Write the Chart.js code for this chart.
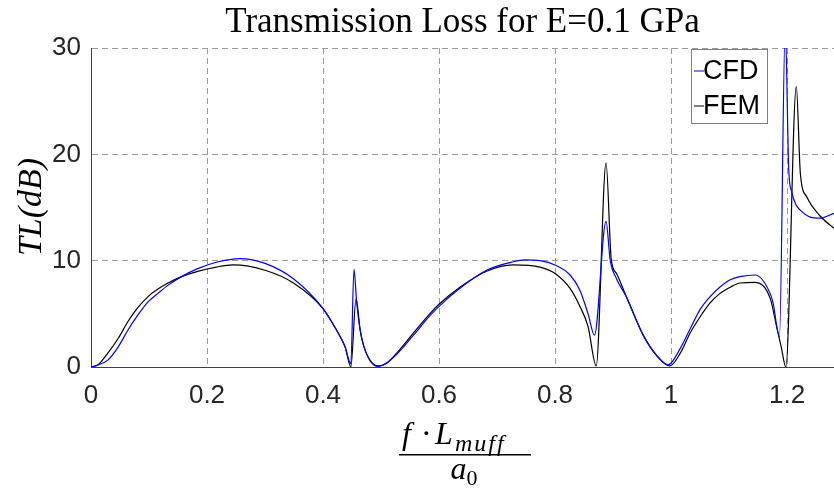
<!DOCTYPE html>
<html>
<head>
<meta charset="utf-8">
<script src="https://cdn.jsdelivr.net/npm/chart.js@4.4.1/dist/chart.umd.min.js"></script>
<style>
  html, body { margin: 0; padding: 0; background: #fff; }
  #wrap { width: 834px; height: 488px; position: relative; }
</style>
</head>
<body>
<div id="wrap"><canvas id="tlChart" width="834" height="488"></canvas></div>
<script>
// values
const cfdX = [0, 0.012, 0.029, 0.047, 0.064, 0.081, 0.098, 0.116, 0.133, 0.156, 0.184, 0.216, 0.257, 0.3, 0.349, 0.4, 0.423, 0.438, 0.448, 0.4534, 0.458, 0.464, 0.4695, 0.481, 0.495, 0.51, 0.527, 0.556, 0.584, 0.6, 0.636, 0.682, 0.728, 0.748, 0.774, 0.8, 0.826, 0.843, 0.857, 0.868, 0.888, 0.895, 0.906, 0.923, 0.952, 0.975, 0.995, 1.016, 1.033, 1.05, 1.067, 1.084, 1.102, 1.119, 1.145, 1.171, 1.176, 1.187, 1.197, 1.203, 1.208, 1.215, 1.222, 1.24, 1.257, 1.281];
const cfdTL = [0, 0.2, 0.65, 1.9, 3.5, 4.9, 6.1, 6.95, 7.7, 8.5, 9.25, 9.85, 10.2, 9.75, 8.3, 5.5, 3.5, 1.9, 0.3, 9.2, 6.1, 3.5, 2.1, 0.6, 0.05, 0.4, 1.2, 3.0, 4.8, 5.7, 7.4, 9.1, 9.9, 10.07, 10.0, 9.6, 8.65, 7.2, 5.0, 3.0, 13.7, 10.1, 8.3, 6.6, 3.0, 1.1, 0.2, 1.75, 3.6, 5.4, 6.6, 7.5, 8.2, 8.5, 8.65, 6.9, 6.0, 2.85, 32, 18.5, 16.5, 15.3, 14.8, 14.1, 14.0, 14.45];

const femX = [0, 0.012, 0.029, 0.047, 0.064, 0.081, 0.098, 0.116, 0.133, 0.156, 0.184, 0.216, 0.245, 0.3, 0.349, 0.4, 0.423, 0.438, 0.448, 0.457, 0.464, 0.4695, 0.481, 0.495, 0.51, 0.527, 0.556, 0.584, 0.6, 0.636, 0.682, 0.728, 0.774, 0.8, 0.826, 0.843, 0.857, 0.871, 0.888, 0.897, 0.906, 0.923, 0.952, 0.975, 0.998, 1.016, 1.033, 1.05, 1.067, 1.084, 1.102, 1.119, 1.145, 1.171, 1.182, 1.19, 1.198, 1.216, 1.223, 1.234, 1.257, 1.281];
const femTL = [0, 0.2, 1.3, 2.7, 4.3, 5.6, 6.6, 7.35, 7.9, 8.5, 9.0, 9.4, 9.6, 9.1, 7.9, 5.5, 3.5, 1.9, 0, 6.4, 3.5, 2.1, 0.65, 0.1, 0.35, 1.3, 3.2, 5.0, 5.9, 7.5, 9.0, 9.6, 9.4, 8.8, 7.4, 5.7, 3.8, 0.1, 19.2, 10.1, 8.8, 6.6, 3.0, 1.1, 0.1, 1.3, 3.2, 4.7, 6.0, 6.9, 7.5, 7.9, 7.95, 6.45, 3.8, 1.9, 0, 26.4, 18.2, 16.0, 14.2, 13.05];

const seriesNames = ["CFD", "FEM"];
const seriesColors = ["#0000ff", "#000000"];
const xTicks = [0, 0.2, 0.4, 0.6, 0.8, 1, 1.2];
const yTicks = [0, 10, 20, 30];

function pairs(xs, ys) {
  return xs.map((x, i) => ({ x: x, y: ys[i] }));
}

const serif = "'Liberation Serif', 'DejaVu Serif', serif";
const sans = "'Liberation Sans', Arial, sans-serif";

// title, axis labels and legend box drawn on the canvas
const extras = {
  id: "extras",
  afterDraw(chart) {
    const ctx = chart.ctx;
    const area = chart.chartArea;
    ctx.save();
    ctx.fillStyle = "#000";

    // title
    ctx.font = "35px " + serif;
    ctx.textAlign = "center";
    ctx.textBaseline = "alphabetic";
    ctx.fillText("Transmission Loss for E=0.1 GPa", (area.left + area.right) / 2, 32);

    // y label
    ctx.save();
    ctx.translate(41, 207);
    ctx.rotate(-Math.PI / 2);
    ctx.font = "italic 34px " + serif;
    ctx.textAlign = "center";
    ctx.fillText("TL(dB)", 0, 0);
    ctx.restore();

    // x label as fraction
    const cx = (area.left + area.right) / 2;
    ctx.textAlign = "left";
    ctx.font = "italic 32px " + serif;
    ctx.fillText("f", 402, 444);
    ctx.font = "32px " + serif;
    ctx.fillText("\u00b7", 421, 444);
    ctx.font = "italic 32px " + serif;
    ctx.fillText("L", 435, 444);
    ctx.font = "italic 24px " + serif;
    ctx.letterSpacing = "2px";
    ctx.fillText("muff", 455, 451);
    ctx.letterSpacing = "0px";
    ctx.fillRect(399, 454, 132, 1.5);
    ctx.font = "italic 32px " + serif;
    const wa = ctx.measureText("a").width;
    ctx.fillText("a", cx - 12, 479);
    ctx.font = "22px " + serif;
    ctx.fillText("0", cx - 12 + wa, 485);

    // legend
    const lx = 691, ly = 49, lw = 76, lh = 74;
    ctx.fillStyle = "#fff";
    ctx.fillRect(lx, ly, lw, lh);
    ctx.strokeStyle = "#7f7f7f";
    ctx.lineWidth = 1;
    ctx.strokeRect(lx + 0.5, ly + 0.5, lw, lh);
    ctx.font = "27px " + sans;
    ctx.textBaseline = "middle";
    seriesNames.forEach((name, i) => {
      const y = ly + 22 + i * 35;
      ctx.strokeStyle = seriesColors[i];
      ctx.beginPath();
      ctx.moveTo(lx + 3, y);
      ctx.lineTo(lx + 13, y);
      ctx.stroke();
      ctx.fillStyle = "#000";
      ctx.fillText(name, lx + 12, y + 1);
    });
    ctx.restore();
  }
};

const tlCtx = document.getElementById("tlChart");
new Chart(tlCtx, {
  type: "line",
  data: {
    datasets: [{
      label: seriesNames[0],
      data: pairs(cfdX, cfdTL),
      borderColor: seriesColors[0],
      borderWidth: 1.2,
      pointRadius: 0,
      cubicInterpolationMode: "monotone"
    }, {
      label: seriesNames[1],
      data: pairs(femX, femTL),
      borderColor: seriesColors[1],
      borderWidth: 1.2,
      pointRadius: 0,
      cubicInterpolationMode: "monotone"
    }]
  },
  options: {
    responsive: false,
    animation: false,
    devicePixelRatio: 1,
    layout: { padding: { top: 48, right: 0, left: 0, bottom: 0 } },
    plugins: {
      legend: { display: false },
      tooltip: { enabled: false }
    },
    scales: {
      x: {
        type: "linear",
        min: 0,
        max: 1.281,
        afterBuildTicks(scale) { scale.ticks = xTicks.map(v => ({ value: v })); },
        afterFit(scale) { scale.height = 121; },
        ticks: {
          font: { family: sans, size: 26 },
          color: "#262626",
          padding: 13,
          maxRotation: 0,
          callback: v => String(v)
        },
        grid: { color: "#9a9a9a", drawTicks: false, lineWidth: 1 },
        border: { color: "#404040", width: 1, dash: [6, 4] }
      },
      y: {
        min: 0,
        max: 30,
        afterBuildTicks(scale) { scale.ticks = yTicks.map(v => ({ value: v })); },
        afterFit(scale) { scale.width = 91; },
        ticks: {
          font: { family: sans, size: 26 },
          color: "#262626",
          padding: 10
        },
        grid: { color: "#9a9a9a", drawTicks: false, lineWidth: 1 },
        border: { color: "#404040", width: 1, dash: [6, 4] }
      }
    }
  },
  plugins: [extras]
});
</script>
</body>
</html>
